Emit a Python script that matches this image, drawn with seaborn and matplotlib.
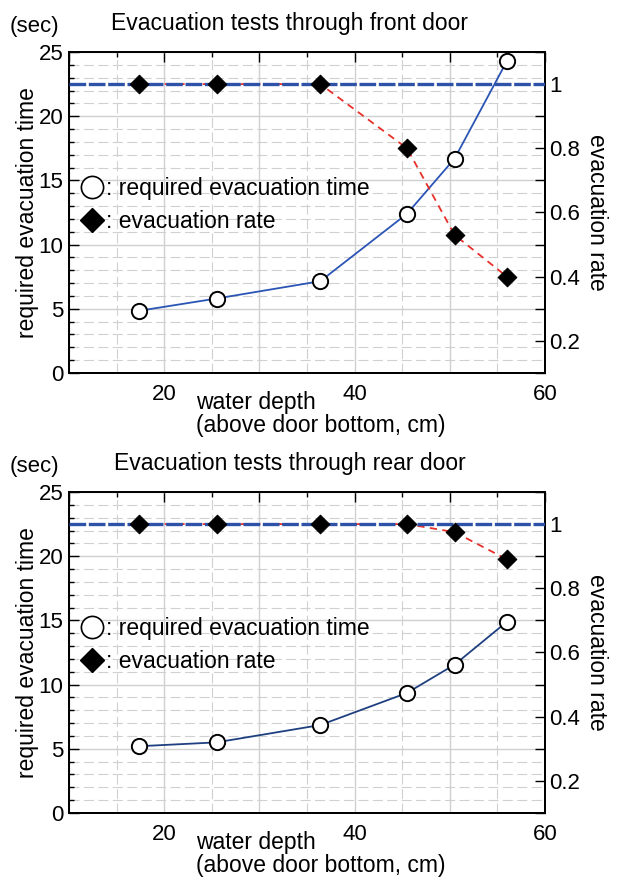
import matplotlib
matplotlib.use('Agg')
import matplotlib.pyplot as plt
from matplotlib.lines import Line2D
from matplotlib.ticker import MultipleLocator
import seaborn as sns

# water depth above door bottom (cm)
depth = [17.4, 25.5, 36.4, 45.5, 50.5, 56.0]

# front door tests
front_time = [4.85, 5.8, 7.15, 12.4, 16.7, 24.3]
front_rate = [1.0, 1.0, 1.0, 0.80, 0.53, 0.40]

# rear door tests
rear_time = [5.2, 5.5, 6.85, 9.35, 11.55, 14.9]
rear_rate = [1.0, 1.0, 1.0, 1.0, 0.975, 0.89]

full_rate = 1.0

x_ticks = [10, 20, 30, 40, 50, 60]
x_tick_labels = ['', '20', '', '40', '', '60']
time_ticks = [0, 5, 10, 15, 20, 25]
rate_ticks = [0.2, 0.4, 0.6, 0.8, 1.0]
rate_tick_labels = ['0.2', '0.4', '0.6', '0.8', '1']

titles = ['Evacuation tests through front door', 'Evacuation tests through rear door']

sns.set_theme(style='white')
plt.rcParams['font.family'] = ['Liberation Sans', 'DejaVu Sans']
plt.rcParams['font.size'] = 16
plt.rcParams['text.color'] = 'black'

fig = plt.figure(figsize=(6.19, 8.77), dpi=100)

panels = [
    (front_time, front_rate, '#2b55b5', titles[0], 0.5747),
    (rear_time, rear_rate, '#1f4080', titles[1], 0.0730),
]

for times, rates, tcolor, title, bottom in panels:
    ax = fig.add_axes([0.1115, bottom, 0.769, 0.366])
    ax2 = ax.twinx()

    ax.set_xlim(10, 60)
    ax.set_ylim(0, 25)
    ax2.set_ylim(0.1, 1.1)

    # grid
    ax.xaxis.set_minor_locator(MultipleLocator(5))
    ax.yaxis.set_minor_locator(MultipleLocator(1))
    ax.set_xticks(x_ticks, x_tick_labels)
    ax.set_yticks(time_ticks)
    ax.grid(which='major', color='#d0d0d0', lw=1.0, ls='-')
    ax.grid(which='minor', color='#d0d0d0', lw=0.8, ls=(0, (9, 4)))
    ax.set_axisbelow(True)

    ax2.set_yticks(rate_ticks, rate_tick_labels)
    ax2.yaxis.set_minor_locator(MultipleLocator(0.1))
    ax2.grid(False)

    # required evacuation time
    sns.lineplot(x=depth, y=times, ax=ax, color=tcolor, lw=1.3, marker='o',
                 markersize=11, markerfacecolor='white', markeredgecolor='black',
                 markeredgewidth=1.4, zorder=5)

    # evacuation rate
    sns.lineplot(x=depth, y=rates, ax=ax2, color='#e8302a', lw=1.3,
                 linestyle=(0, (4, 3)), zorder=2)
    ax2.axhline(full_rate, color='#2d52a8', lw=2.4, ls=(0, (5, 0.8)), zorder=3)
    sns.scatterplot(x=depth, y=rates, ax=ax2, marker='D', s=90, color='black',
                    edgecolor='black', zorder=4)

    for a in (ax, ax2):
        for sp in a.spines.values():
            sp.set_color('black')
            sp.set_linewidth(1.4)
    ax.tick_params(which='both', direction='in', top=True, right=False,
                   color='black', width=1.0, labelsize=16, labelcolor='black')
    ax.tick_params(which='major', length=7)
    ax.tick_params(which='minor', length=3.5)
    ax.tick_params(axis='x', pad=8)
    ax.tick_params(axis='y', pad=4)
    ax2.tick_params(which='both', direction='in', right=True, left=False,
                    length=7, width=1.0, color='black', labelsize=16,
                    labelcolor='black', pad=3)

    ax.text(-0.124, 1.078, '(sec)', transform=ax.transAxes, ha='left',
            va='center', fontsize=16)
    ax.text(0.464, 1.09, title, transform=ax.transAxes, ha='center',
            va='center', fontsize=16.5)
    ax.text(-0.088, 0.5, 'required evacuation time', transform=ax.transAxes,
            rotation=90, ha='center', va='center', fontsize=16.5)
    ax.text(1.109, 0.5, 'evacuation rate', transform=ax.transAxes,
            rotation=270, ha='center', va='center', fontsize=16.5)
    ax.text(0.267, -0.092, 'water depth', transform=ax.transAxes,
            ha='left', va='center', fontsize=16.5)
    ax.text(0.267, -0.164, '(above door bottom, cm)', transform=ax.transAxes,
            ha='left', va='center', fontsize=16.5)

    handles = [
        Line2D([], [], ls='none', marker='o', markersize=16,
               markerfacecolor='white', markeredgecolor='black',
               markeredgewidth=1.2),
        Line2D([], [], ls='none', marker='D', markersize=12,
               markerfacecolor='black', markeredgecolor='black'),
    ]
    leg = ax2.legend(handles, [': required evacuation time', ': evacuation rate'],
                     loc='center left', bbox_to_anchor=(-0.02, 0.523),
                     frameon=False, handlelength=1.0, handletextpad=0.15,
                     labelspacing=0.45, fontsize=16.5)
    for t in leg.get_texts():
        t.set_color('black')

fig.savefig('out.png', dpi=100)
